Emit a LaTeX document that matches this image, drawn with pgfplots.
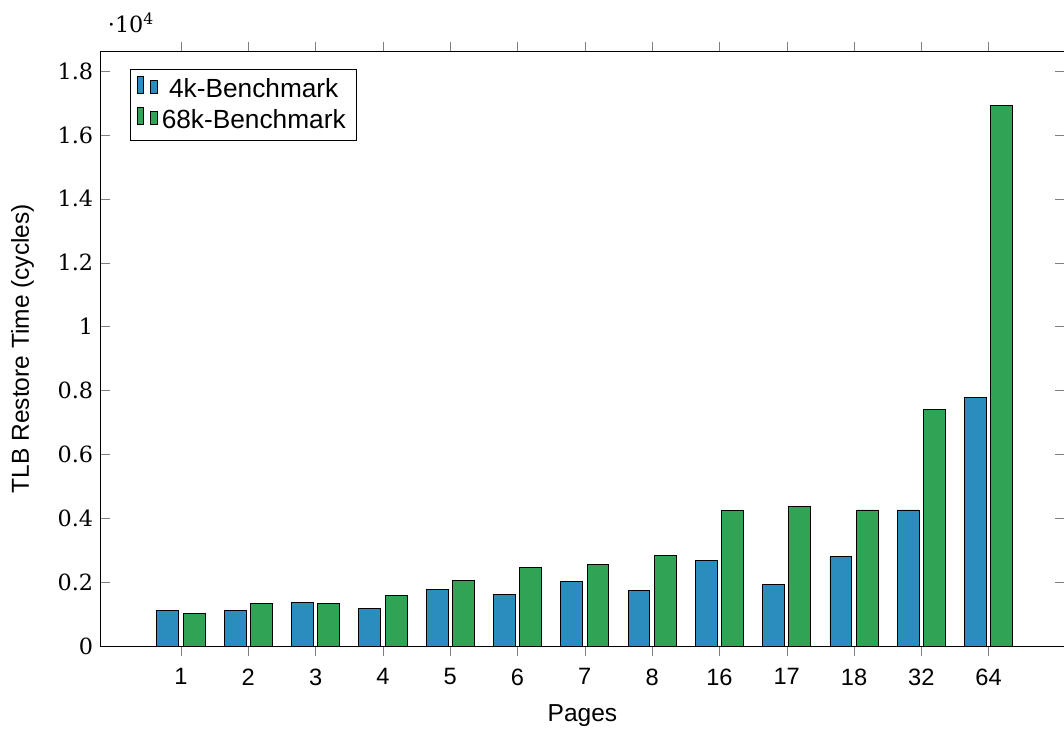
\documentclass[border=0pt]{standalone}
\usepackage{pgfplots}
\pgfplotsset{compat=1.18}
\usepackage{fontspec}
\setmainfont{Liberation Sans}
\newfontfamily\serifnum{DejaVu Serif}
\definecolor{cblue}{HTML}{2B8CBE}
\definecolor{cgreen}{HTML}{31A354}
\begin{document}
\begin{tikzpicture}
\begin{axis}[
  scale only axis, width=440pt, height=272pt,
  ybar, bar width=10pt,
  ymin=0, ymax=18625,
  xmin=-1.19, xmax=13.12,
  xtick={0,...,12}, xticklabels={1,2,3,4,5,6,7,8,16,17,18,32,64},
  ytick={0,2000,...,18000},
  scaled y ticks=base 10:-4,
  ytick scale label code/.code={\serifnum\textperiodcentered10\textsuperscript{#1}},
  yticklabel style={/pgf/number format/assume math mode=true, font=\serifnum\fontsize{10.2}{12}\selectfont},
  xticklabel style={font=\fontsize{10.8}{12}\selectfont},
  xticklabel shift=2.4pt,
  label style={font=\fontsize{11.2}{13.5}\selectfont},
  xlabel shift=1.8pt,
  ylabel shift=4pt,
  legend style={font=\fontsize{12}{14.4}\selectfont},
  xlabel={Pages}, ylabel={TLB Restore Time (cycles)},
  legend pos=north west, legend cell align=center,
]
\addplot[fill=cblue, draw=black] coordinates {
(0,1130) (1,1126) (2,1385) (3,1198) (4,1781) (5,1635) (6,2031) (7,1760) (8,2696) (9,1925) (10,2799) (11,4268) (12,7791)};
\addplot[fill=cgreen, draw=black] coordinates {
(0,1040) (1,1354) (2,1354) (3,1594) (4,2062) (5,2462) (6,2549) (7,2830) (8,4246) (9,4390) (10,4268) (11,7407) (12,16931)};
\legend{4k-Benchmark, 68k-Benchmark}
\end{axis}
\pgfresetboundingbox
\path[use as bounding box] ([xshift=-46.1pt,yshift=-37.4pt]current axis.south west) rectangle ([yshift=23.3pt]current axis.north east);
\end{tikzpicture}
\end{document}
